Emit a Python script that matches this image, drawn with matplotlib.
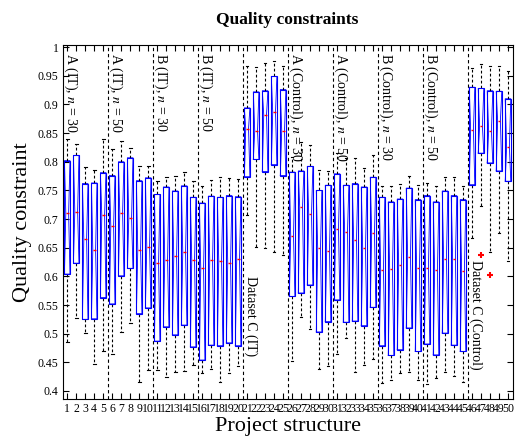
import matplotlib
matplotlib.use("Agg")
import matplotlib.pyplot as plt
import numpy as np

plt.rcParams['font.family'] = ['Liberation Serif', 'DejaVu Serif']
plt.rcParams['mathtext.fontset'] = 'stix'

# values, one entry per project structure (1..50)
upper_whisker = [0.840, 0.831, 0.791, 0.785, 0.840, 0.822, 0.837, 0.824, 0.793, 0.793,
                 0.766, 0.774, 0.776, 0.783, 0.766, 0.757, 0.769, 0.773, 0.772, 0.770,
                 0.967, 0.965, 0.972, 0.976, 0.968, 0.808, 0.834, 0.830, 0.786, 0.784,
                 0.815, 0.807, 0.806, 0.789, 0.811, 0.757, 0.758, 0.762, 0.776, 0.760,
                 0.763, 0.757, 0.774, 0.774, 0.757, 0.964, 0.971, 0.968, 0.968, 0.958]
q3 = [0.802, 0.811, 0.762, 0.763, 0.781, 0.776, 0.800, 0.807, 0.767, 0.772,
      0.743, 0.756, 0.749, 0.758, 0.738, 0.728, 0.740, 0.738, 0.741, 0.739,
      0.894, 0.922, 0.924, 0.949, 0.926, 0.782, 0.784, 0.792, 0.750, 0.759,
      0.779, 0.759, 0.762, 0.756, 0.773, 0.738, 0.730, 0.735, 0.754, 0.734,
      0.741, 0.730, 0.749, 0.741, 0.734, 0.930, 0.928, 0.924, 0.923, 0.910]
medians = [0.710, 0.713, 0.665, 0.646, 0.707, 0.688, 0.711, 0.702, 0.646, 0.652,
           0.624, 0.629, 0.635, 0.642, 0.628, 0.614, 0.628, 0.627, 0.623, 0.631,
           0.858, 0.854, 0.882, 0.887, 0.854, 0.671, 0.721, 0.709, 0.649, 0.645,
           0.683, 0.678, 0.664, 0.649, 0.676, 0.611, 0.613, 0.620, 0.634, 0.614,
           0.615, 0.611, 0.631, 0.630, 0.610, 0.856, 0.862, 0.854, 0.872, 0.826]
q1 = [0.604, 0.623, 0.525, 0.526, 0.563, 0.552, 0.601, 0.614, 0.535, 0.545,
      0.487, 0.512, 0.498, 0.515, 0.477, 0.454, 0.480, 0.479, 0.484, 0.479,
      0.774, 0.804, 0.783, 0.795, 0.776, 0.565, 0.571, 0.585, 0.503, 0.521,
      0.559, 0.520, 0.522, 0.514, 0.546, 0.479, 0.462, 0.472, 0.510, 0.469,
      0.482, 0.463, 0.501, 0.480, 0.469, 0.760, 0.815, 0.798, 0.784, 0.766]
lower_whisker = [0.485, 0.527, 0.501, 0.447, 0.470, 0.465, 0.503, 0.518, 0.415, 0.437,
                 0.437, 0.424, 0.434, 0.435, 0.445, 0.432, 0.438, 0.416, 0.432, 0.444,
                 0.707, 0.651, 0.649, 0.643, 0.638, 0.452, 0.529, 0.508, 0.438, 0.444,
                 0.464, 0.492, 0.433, 0.445, 0.455, 0.414, 0.420, 0.431, 0.434, 0.419,
                 0.412, 0.422, 0.433, 0.426, 0.416, 0.667, 0.723, 0.643, 0.676, 0.627]
outlier_x = [47, 48]
outlier_y = [0.638, 0.603]

group_labels = ["A (IT), $n$ = 30", "A (IT), $n$ = 50", "B (IT), $n$ = 30", "B (IT), $n$ = 50",
                "Dataset C (IT)",
                "A (Control), $n$ = 30", "A (Control), $n$ = 50",
                "B (Control), $n$ = 30", "B (Control), $n$ = 50",
                "Dataset C (Control)"]
label_top = [0.99, 0.99, 0.99, 0.99, 0.60, 0.99, 0.99, 0.99, 0.99, 0.628]

positions = np.arange(1, len(medians) + 1)
box_w = 0.62

stats = []
for i, p in enumerate(positions):
    fl = [y for x, y in zip(outlier_x, outlier_y) if x == p]
    stats.append(dict(med=medians[i], q1=q1[i], q3=q3[i],
                      whislo=lower_whisker[i], whishi=upper_whisker[i],
                      cilo=q1[i], cihi=q3[i], fliers=fl))

fig = plt.figure(figsize=(5.17, 4.41), dpi=100)
ax = fig.add_axes([0.1213, 0.0952, 0.870, 0.803])

ax.bxp(stats, positions=positions, widths=box_w, capwidths=0.3, shownotches=True,
       boxprops=dict(color='blue', lw=0.6),
       whiskerprops=dict(color='black', ls=(0, (2.5, 2)), lw=0.8),
       capprops=dict(color='black', lw=0.8),
       medianprops=dict(color='red', lw=1.0),
       flierprops=dict(marker='+', markeredgecolor='red', markersize=5, mew=1.5))
# straight box outline on top of the notch lines
ax.bar(positions, np.array(q3) - np.array(q1), bottom=q1, width=box_w,
       fill=False, edgecolor='blue', lw=0.8, zorder=3)

for k in range(1, 10):
    ax.axvline(k * 5 + 0.5, color='black', ls=(0, (3, 2.5)), lw=0.8)

for k, lab in enumerate(group_labels):
    ax.text(k * 5 + 1.4, label_top[k], lab, rotation=-90, ha='center', va='top', fontsize=10)

ax.set_xlim(0.5, 50.5)
ax.set_ylim(0.386, 1.004)
ax.set_xticks(positions)
ax.set_xticklabels([str(p) for p in positions])
yt = np.round(np.arange(0.4, 1.001, 0.05), 2)
ax.set_yticks(yt)
ax.set_yticklabels([f"{v:g}" for v in yt])
ax.tick_params(direction='in', top=True, right=True, length=4, labelsize=8.5, pad=3)

ax.set_title("Quality constraints", fontsize=12.5, fontweight='bold', pad=15)
ax.set_xlabel("Project structure", fontsize=16, labelpad=1)
ax.set_ylabel("Quality constraint", fontsize=16, labelpad=4)

fig.savefig("out.png", dpi=100)
